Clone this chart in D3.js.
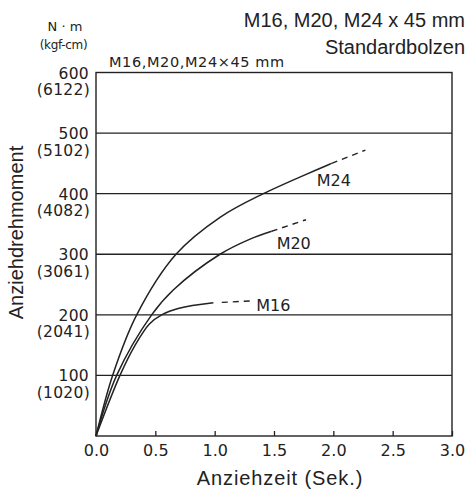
<!DOCTYPE html>
<html lang="de">
  <head>
    <meta charset="UTF-8" />
    <title>Anziehdrehmoment</title>
    <script src="https://d3js.org/d3.v7.min.js"></script>
    <style>
      body {
        margin: 0;
        padding: 0;
        background: #fff;
      }
      svg {
        display: block;
      }
      .jp {
        font-family: "DejaVu Sans", sans-serif;
        fill: #222;
      }
      .latin {
        font-family: "Liberation Sans", Arial, sans-serif;
        fill: #222;
      }
    </style>
  </head>
  <body>
    <svg width="473" height="490"></svg>
    <script>
      // tick values
      const xTicks = [0, 0.5, 1.0, 1.5, 2.0, 2.5, 3.0];
      const yTicks = [100, 200, 300, 400, 500, 600];
      const kgfLabels = ["1020", "2041", "3061", "4082", "5102", "6122"];

      // curves: [seconds, N·m]
      const m24Solid = [
        [0, 0], [0.14, 100], [0.343, 200], [0.674, 300],
        [1.045, 361], [1.41, 400], [1.986, 450],
      ];
      const m24Dash = [[1.986, 450], [2.27, 472]];

      const m20Solid = [
        [0, 0], [0.174, 100], [0.469, 200], [0.651, 241],
        [1.045, 300], [1.298, 325], [1.48, 338],
      ];
      const m20Dash = [[1.48, 338], [1.77, 357]];

      const m16Solid = [
        [0, 0], [0.202, 100], [0.33, 150], [0.45, 185], [0.553, 200],
        [0.7, 211], [0.989, 220],
      ];
      const m16Dash = [[1.06, 220.5], [1.3, 223]];

      const seriesNames = ["M24", "M20", "M16"];

      const svg = d3.select("svg");
      const x = d3.scaleLinear().domain([0, 3]).range([96, 452]);
      const y = d3.scaleLinear().domain([0, 600]).range([436, 72.5]);
      const ink = "#222";

      // horizontal grid lines
      svg
        .append("g")
        .selectAll("line")
        .data(yTicks.slice(0, -1))
        .join("line")
        .attr("x1", x(0))
        .attr("x2", x(3))
        .attr("y1", (d) => y(d))
        .attr("y2", (d) => y(d))
        .attr("stroke", ink)
        .attr("stroke-width", 1.3);

      // frame
      svg
        .append("rect")
        .attr("x", x(0))
        .attr("y", y(600))
        .attr("width", x(3) - x(0))
        .attr("height", y(0) - y(600))
        .attr("fill", "none")
        .attr("stroke", ink)
        .attr("stroke-width", 1.4);

      // x axis: inner ticks
      const xAxis = svg
        .append("g")
        .attr("transform", `translate(0,${y(0)})`)
        .call(
          d3
            .axisBottom(x)
            .tickValues(xTicks)
            .tickSize(-5)
            .tickPadding(9)
            .tickFormat(d3.format(".1f"))
        );
      xAxis.select(".domain").remove();
      xAxis.selectAll("line").attr("stroke", ink).attr("stroke-width", 1.3);
      xAxis
        .selectAll("text")
        .attr("class", "jp")
        .attr("font-size", 16)
        .attr("fill", ink);

      // y tick labels, N·m and kgf-cm
      const yLab = svg.append("g");
      yLab
        .selectAll("text.nm")
        .data(yTicks)
        .join("text")
        .attr("class", "jp nm")
        .attr("x", 89)
        .attr("y", (d) => y(d) + 6)
        .attr("text-anchor", "end")
        .attr("font-size", 15.5)
        .attr("letter-spacing", 0.3)
        .text((d) => d);
      yLab
        .selectAll("text.kgf")
        .data(kgfLabels)
        .join("text")
        .attr("class", "jp kgf")
        .attr("x", 90)
        .attr("y", (d, i) => y(yTicks[i]) + 22.5)
        .attr("text-anchor", "end")
        .attr("font-size", 15.5)
        .attr("letter-spacing", 0.3)
        .text((d) => `(${d})`);

      // curves
      const line = d3
        .line()
        .x((d) => x(d[0]))
        .y((d) => y(d[1]))
        .curve(d3.curveCatmullRom.alpha(0.5));

      [m24Solid, m20Solid, m16Solid].forEach((pts) => {
        svg
          .append("path")
          .attr("d", line(pts))
          .attr("fill", "none")
          .attr("stroke", ink)
          .attr("stroke-width", 1.5);
      });
      [m24Dash, m20Dash, m16Dash].forEach((pts) => {
        svg
          .append("path")
          .attr("d", d3.line().x((d) => x(d[0])).y((d) => y(d[1]))(pts))
          .attr("fill", "none")
          .attr("stroke", ink)
          .attr("stroke-width", 1.4)
          .attr("stroke-dasharray", "6,5");
      });

      // series labels, placed relative to end of each curve
      const labelAnchors = [m24Solid[m24Solid.length - 1], m20Solid[m20Solid.length - 1], m16Dash[1]];
      const labelOffsets = [[-15, 23], [5, 18], [6, 10]];
      svg
        .selectAll("text.series")
        .data(seriesNames)
        .join("text")
        .attr("class", "jp series")
        .attr("x", (d, i) => x(labelAnchors[i][0]) + labelOffsets[i][0])
        .attr("y", (d, i) => y(labelAnchors[i][1]) + labelOffsets[i][1])
        .attr("font-size", 16)
        .text((d) => d);

      // units above the y axis
      svg
        .append("text")
        .attr("class", "jp")
        .attr("x", 65)
        .attr("y", 31)
        .attr("text-anchor", "middle")
        .attr("font-size", 13)
        .text("N · m");
      svg
        .append("text")
        .attr("class", "jp")
        .attr("x", 63.5)
        .attr("y", 48.5)
        .attr("text-anchor", "middle")
        .attr("font-size", 12)
        .attr("letter-spacing", -0.3)
        .text("(kgf-cm)");

      // subtitle inside the top
      svg
        .append("text")
        .attr("class", "jp")
        .attr("x", 109)
        .attr("y", 66.5)
        .attr("font-size", 14.5)
        .attr("letter-spacing", 0.6)
        .text("M16,M20,M24×45 mm");

      // title
      svg
        .append("text")
        .attr("class", "latin")
        .attr("x", 465)
        .attr("y", 26.5)
        .attr("text-anchor", "end")
        .attr("font-size", 20)
        .text("M16, M20, M24 x 45 mm");
      svg
        .append("text")
        .attr("class", "latin")
        .attr("x", 465)
        .attr("y", 54)
        .attr("text-anchor", "end")
        .attr("font-size", 20)
        .text("Standardbolzen");

      // axis titles
      svg
        .append("text")
        .attr("class", "latin")
        .attr("x", 280)
        .attr("y", 485)
        .attr("text-anchor", "middle")
        .attr("font-size", 20)
        .attr("letter-spacing", 0.9)
        .text("Anziehzeit (Sek.)");
      svg
        .append("text")
        .attr("class", "latin")
        .attr("transform", "translate(23,232.5) rotate(-90)")
        .attr("text-anchor", "middle")
        .attr("font-size", 20)
        .text("Anziehdrehmoment");
    </script>
  </body>
</html>
